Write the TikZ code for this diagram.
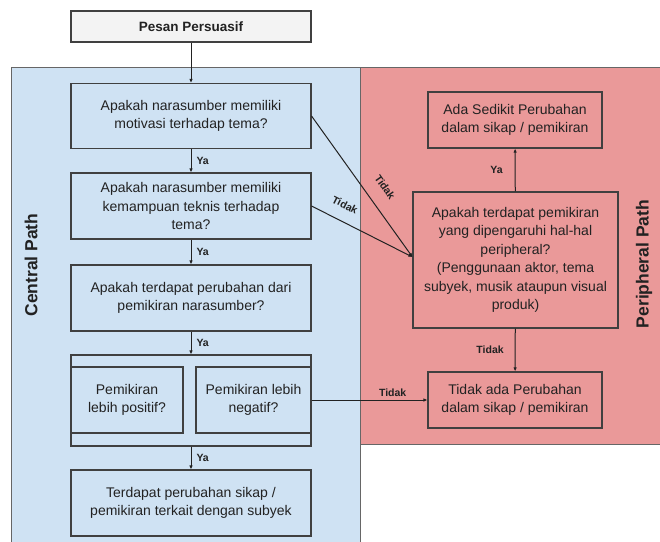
\documentclass[tikz,border=0pt]{standalone}
\usepackage{fontspec}
\setmainfont{Liberation Sans}
\usetikzlibrary{arrows.meta}
\definecolor{bluebg}{HTML}{CFE2F3}
\definecolor{redbg}{HTML}{EA9999}
\definecolor{pesanbg}{HTML}{F3F3F3}
\definecolor{edge}{HTML}{404040}
\definecolor{ink}{HTML}{222222}
\tikzset{
  region/.style={draw=edge!80, line width=1pt},
  box/.style={draw=edge, line width=1.1pt, rectangle, align=center, text=ink,
    font=\fontsize{14}{18.5}\selectfont, inner sep=0pt},
  conn/.style={draw=ink, line width=1pt, -{Latex[length=4pt,width=3.5pt]}},
  lbl/.style={font=\fontsize{10.5}{12}\selectfont\bfseries, text=ink, inner sep=1pt},
  side/.style={font=\fontsize{17.5}{20}\selectfont\bfseries, text=ink, rotate=90},
}
\begin{document}
\begin{tikzpicture}[x=1pt,y=-1pt]
\useasboundingbox (0,0) rectangle (660,541);
% regions
\path[region, fill=bluebg] (11.5,67.5) rectangle (360,548);
\path[region, fill=redbg] (360,67.5) rectangle (663,444);
\node[side] (central) at (31,265) {Central Path};
\node[side] (periphpath) at (644,264) {Peripheral Path};
% central boxes
\node[box, fill=pesanbg, minimum width=240pt, minimum height=31pt,
  font=\fontsize{13.5}{16}\selectfont\bfseries] (pesan) at (191,26.5) {Pesan Persuasif};
\node[box, minimum width=240pt, minimum height=65pt] (q1) at (191,116)
  {Apakah narasumber memiliki\\motivasi terhadap tema?};
\node[box, minimum width=240pt, minimum height=66pt] (q2) at (191,206)
  {Apakah narasumber memiliki\\kemampuan teknis terhadap\\tema?};
\node[box, minimum width=240pt, minimum height=66pt] (q3) at (191,298)
  {Apakah terdapat perubahan dari\\pemikiran narasumber?};
\node[box, minimum width=240pt, minimum height=91pt] (grp) at (191,400.5) {};
\node[box, minimum width=112pt, minimum height=66pt] (pos) at (127,400)
  {Pemikiran\\lebih positif?};
\node[box, minimum width=115pt, minimum height=66pt] (neg) at (253.5,400)
  {Pemikiran lebih\\negatif?};
\node[box, minimum width=240pt, minimum height=66pt] (res) at (191,503)
  {Terdapat perubahan sikap /\\pemikiran terkait dengan subyek};
% peripheral boxes
\node[box, minimum width=174pt, minimum height=56pt] (ada) at (515,120)
  {Ada Sedikit Perubahan\\dalam sikap / pemikiran};
\node[box, minimum width=205pt, minimum height=136pt] (periph) at (515.5,260)
  {Apakah terdapat pemikiran\\yang dipengaruhi hal-hal\\peripheral?\\(Penggunaan aktor, tema\\subyek, musik ataupun visual\\produk)};
\node[box, minimum width=174pt, minimum height=56pt] (tidak) at (515,400)
  {Tidak ada Perubahan\\dalam sikap / pemikiran};
% connectors
\draw[conn] (pesan) -- (q1);
\draw[conn] (q1) -- node[lbl, anchor=west, xshift=4pt] {Ya} (q2);
\draw[conn] (q2) -- node[lbl, anchor=west, xshift=4pt] {Ya} (q3);
\draw[conn] (q3) -- node[lbl, anchor=west, xshift=4pt] {Ya} (grp);
\draw[conn] (grp) -- node[lbl, anchor=west, xshift=4pt] {Ya} (res);
\draw[conn] (q1.east) -- ([yshift=3pt]periph.west);
\draw[conn] (q2.east) -- ([yshift=3pt]periph.west);
\node[lbl, rotate=-55] (t1) at (385,187) {Tidak};
\node[lbl, rotate=-27] (t2) at (345,205) {Tidak};
\draw[conn] (periph) -- node[lbl, anchor=east, xshift=-11pt] {Ya} (ada);
\draw[conn] (periph) -- node[lbl, anchor=east, xshift=-10pt] {Tidak} (tidak);
\draw[conn] (neg.east) -- node[lbl, above, pos=0.7, yshift=2pt] {Tidak} (tidak.west);
\end{tikzpicture}
\end{document}
